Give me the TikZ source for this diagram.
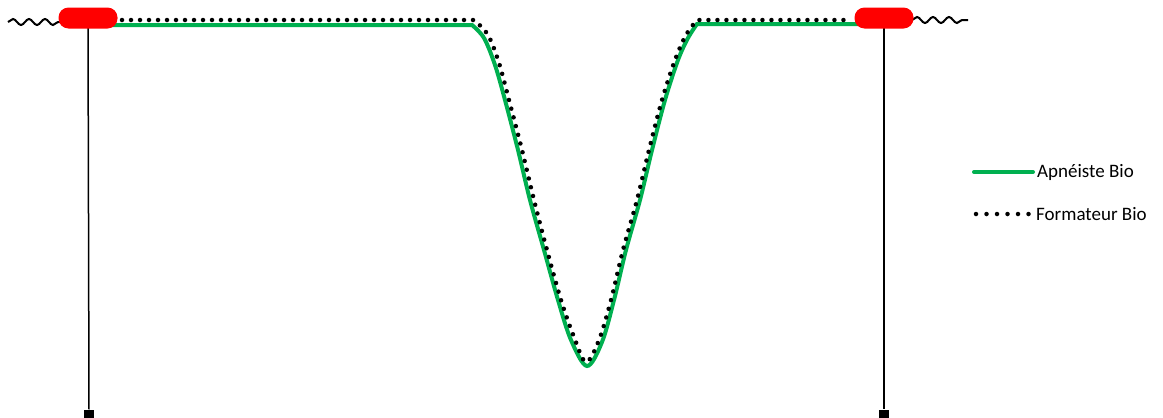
\documentclass[tikz,border=0pt]{standalone}
\usepackage{fontspec}
\setmainfont{Carlito}
\usetikzlibrary{positioning,decorations.pathmorphing}
\definecolor{buoyred}{RGB}{255,0,0}
\definecolor{biogreen}{RGB}{0,176,80}

\begin{document}
\begin{tikzpicture}[
        x=1pt,y=-1pt,
        buoy/.style={fill=buoyred,rounded corners=10pt,minimum width=59pt,minimum height=21pt,inner sep=0pt},
        ballast/.style={fill=black,minimum width=10pt,minimum height=9pt,inner sep=0pt},
        rope/.style={line width=1.5pt},
        wave/.style={line width=2pt,decorate,decoration={snake,amplitude=3pt,segment length=16pt}},
        apnea/.style={biogreen,line width=4pt},
        trainer/.style={line width=4.5pt,line cap=round,dash pattern=on 0pt off 9pt},
        legend/.style={anchor=west,inner sep=0pt,font=\fontsize{19}{22}\selectfont}
    ]
        \useasboundingbox (0,0) rectangle (1163,418);

        % Buoy positions
        \coordinate (lb) at (88,18);
        \coordinate (rb) at (884,18);

        % Surface waves
        \coordinate (wl) at (8,22);
        \coordinate (wr) at (968,20);
        \draw[wave] (wl) -- (60,22);
        \draw[wave] (912,20) -- (wr);

        % Ballasts and ropes
        \node[ballast] (lballast) at (89,414) {};
        \node[ballast] (rballast) at (884,414) {};
        \draw[rope] (lb) -- (lballast.north);
        \draw[rope] (rb) -- (rballast.north);

        % Apneist dive profile
        \draw[apnea] (110,25) -- (472,25)
            -- plot[smooth,tension=0.55] coordinates {(472,25) (484,38) (495,65) (505,100) (518,150) (530,200) (544,250) (558,300) (571,340) (587,366) (602,342) (614,300) (626,250) (640,200) (652,150) (665,100) (678,60) (688,38) (697,24)}
            -- (860,24);

        % Trainer dive profile
        \draw[trainer] (122,20) -- (472,20)
            -- plot[smooth,tension=0.55] coordinates {(474,20) (488,35) (499,63) (509,100) (522,150) (534,200) (547,250) (561,300) (574,337) (586,362) (599,340) (611,300) (623,250) (637,200) (649,150) (662,100) (675,60) (686,35) (697,20)}
            -- (852,20);

        % Buoys
        \node[buoy] (lbuoy) at (lb) {};
        \node[buoy] (rbuoy) at (rb) {};

        % Legend
        \node[legend] (apnlab) at (1037,172) {Apnéiste Bio};
        \node[legend] (trnlab) at (1036,214) {Formateur Bio};
        \coordinate (apnkey) at (974,172);
        \coordinate (trnkey) at (976,214);
        \draw[apnea,line cap=round] (apnkey) -- ([xshift=-4pt]apnlab.west);
        \draw[trainer,dash pattern=on 0pt off 10.5pt] (trnkey) -- ([xshift=-5pt]trnlab.west);
    \end{tikzpicture}
\end{document}
